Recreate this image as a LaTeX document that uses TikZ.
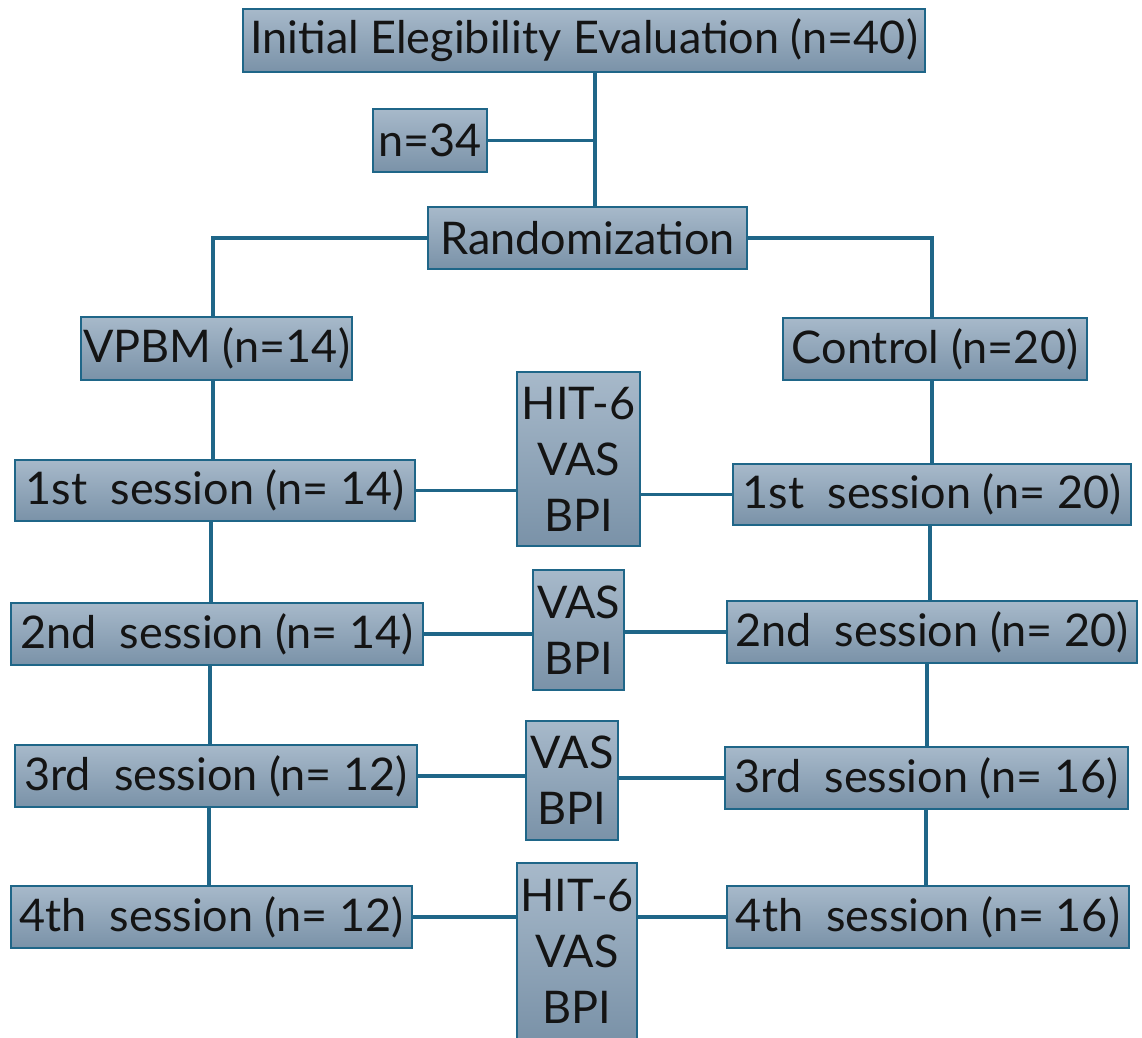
\documentclass[tikz,border=0pt]{standalone}
\usepackage{fontspec}
\setmainfont{Lato}
\begin{document}
\begin{tikzpicture}[x=1pt,y=-1pt,
  box/.style={draw=linec, line width=1.8pt, top color=boxtop, bottom color=boxbot,
    inner sep=0pt, text=textc, font=\fontsize{45}{56}\selectfont},
  link/.style={draw=linec, line width=3.2pt}]
\definecolor{boxtop}{HTML}{A7B9CA}
\definecolor{boxbot}{HTML}{7A92A8}
\definecolor{linec}{HTML}{1F6688}
\definecolor{textc}{HTML}{141414}
\useasboundingbox (0,0) rectangle (1142,1037);
\fill[white] (0,0) rectangle (1142,1037);

% boxes: centre, width, height in pixels
\node[box, minimum width=682, minimum height=63] (top) at (584,40.5) {Initial Elegibility Evaluation (n=40)};
\node[box, minimum width=114, minimum height=63] (n34) at (430,140.5) {n=34};
\node[box, minimum width=319, minimum height=62] (rand) at (587.5,238) {Randomization};
\node[box, minimum width=271, minimum height=63] (vpbm) at (216.5,348.5) {VPBM (n=14)};
\node[box, minimum width=304, minimum height=62] (ctrl) at (935,349) {Control (n=20)};

\node[box, minimum width=123, minimum height=174, align=center] (m1) at (578.5,459) {HIT-6\\VAS\\BPI};
\node[box, minimum width=91, minimum height=120, align=center] (m2) at (578.5,630) {VAS\\BPI};
\node[box, minimum width=92, minimum height=119, align=center] (m3) at (572,780.5) {VAS\\BPI};
\node[box, minimum width=120, minimum height=177, align=center] (m4) at (577,951.5) {HIT-6\\VAS\\BPI};

\node[box, minimum width=400, minimum height=61] (l1) at (215,490.5) {1st~ session (n=~14)};
\node[box, minimum width=412, minimum height=62] (l2) at (217,634) {2nd~ session (n=~14)};
\node[box, minimum width=402, minimum height=62] (l3) at (216,776) {3rd~ session (n=~12)};
\node[box, minimum width=401, minimum height=62] (l4) at (211.5,917) {4th~ session (n=~12)};

\node[box, minimum width=398, minimum height=61] (r1) at (932,494.5) {1st~ session (n=~20)};
\node[box, minimum width=410, minimum height=62] (r2) at (932,632) {2nd~ session (n=~20)};
\node[box, minimum width=403, minimum height=62] (r3) at (926.5,778) {3rd~ session (n=~16)};
\node[box, minimum width=402, minimum height=62] (r4) at (928,917) {4th~ session (n=~16)};

% trunk from the evaluation to the randomization
\coordinate (trunk) at ([xshift=7.5pt]rand.north);
\draw[link] (trunk |- top.south) -- (trunk);
\draw[link] (n34.east) -- (n34.east -| trunk);

% split into the two arms
\draw[link] (rand.west) -| ([xshift=-3.5pt]vpbm.north);
\draw[link] (rand.east) -| ([xshift=-3pt]ctrl.north);

% arm columns
\draw[link] ([xshift=-3.5pt]vpbm.south) -- ([xshift=-3.5pt]vpbm.south |- l1.north);
\draw[link] ([xshift=-4pt]l1.south) -- ([xshift=-4pt]l1.south |- l2.north);
\draw[link] ([xshift=-7pt]l2.south) -- ([xshift=-7pt]l2.south |- l3.north);
\draw[link] ([xshift=-7pt]l3.south) -- ([xshift=-7pt]l3.south |- l4.north);

\draw[link] ([xshift=-3pt]ctrl.south) -- ([xshift=-3pt]ctrl.south |- r1.north);
\draw[link] ([xshift=-2pt]r1.south) -- ([xshift=-2pt]r1.south |- r2.north);
\draw[link] ([xshift=-5pt]r2.south) -- ([xshift=-5pt]r2.south |- r3.north);
\draw[link] ([xshift=-0.5pt]r3.south) -- ([xshift=-0.5pt]r3.south |- r4.north);

% measurements taken at each session
\draw[link] (l1.east) -- (l1.east -| m1.west);
\draw[link] (m1.east |- r1.west) -- (r1.west);
\draw[link] (l2.east) -- (l2.east -| m2.west);
\draw[link] (m2.east |- r2.west) -- (r2.west);
\draw[link] (l3.east) -- (l3.east -| m3.west);
\draw[link] (m3.east |- r3.west) -- (r3.west);
\draw[link] (l4.east) -- (l4.east -| m4.west);
\draw[link] (m4.east |- r4.west) -- (r4.west);
\end{tikzpicture}
\end{document}
